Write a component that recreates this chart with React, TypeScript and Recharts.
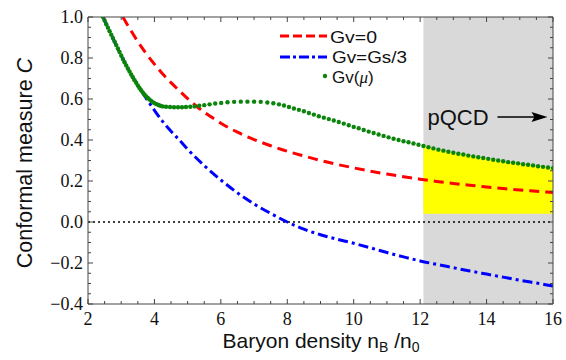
import React from 'react';
import { ComposedChart, Line, Area, XAxis, YAxis, ReferenceArea, ReferenceLine } from 'recharts';

// ---------- data ----------
const greenX = [
  2.45, 2.5, 2.55, 2.6, 2.65, 2.7, 2.75, 2.8, 2.85, 2.9, 2.95, 3.0, 3.05, 3.1, 3.15, 3.2, 3.25, 3.3, 3.35, 3.4,
  3.45, 3.5, 3.55, 3.6, 3.65, 3.7, 3.75, 3.8, 3.85, 3.9, 3.95, 4.0, 4.06, 4.12, 4.18, 4.25, 4.35, 4.47, 4.59, 4.71,
  4.83, 4.95, 5.08, 5.21, 5.35, 5.5, 5.66, 5.83, 6.01, 6.2, 6.4, 6.6, 6.8, 7.0, 7.2, 7.4, 7.58, 7.75, 7.9, 8.05,
  8.2, 8.35, 8.5, 8.65, 8.8, 8.95, 9.1, 9.25, 9.4, 9.55, 9.7, 9.85, 10.0, 10.15, 10.3, 10.45, 10.6, 10.75, 10.9, 11.05,
  11.2, 11.35, 11.5, 11.65, 11.8, 11.95, 12.1, 12.25, 12.4, 12.55, 12.7, 12.85, 13.0, 13.15, 13.3, 13.45, 13.6, 13.75, 13.9, 14.05,
  14.2, 14.35, 14.5, 14.65, 14.8, 14.95, 15.1, 15.25, 15.4, 15.55, 15.7, 15.85, 16.0,
];
const greenY = [
  1.0, 0.983, 0.965, 0.948, 0.931, 0.914, 0.897, 0.88, 0.863, 0.846, 0.829, 0.812, 0.795, 0.779, 0.764, 0.749, 0.734, 0.72, 0.706, 0.692,
  0.679, 0.666, 0.654, 0.643, 0.632, 0.622, 0.613, 0.605, 0.598, 0.591, 0.585, 0.58, 0.575, 0.571, 0.567, 0.564, 0.562, 0.561, 0.56, 0.56,
  0.56, 0.561, 0.562, 0.564, 0.567, 0.57, 0.574, 0.578, 0.581, 0.584, 0.586, 0.587, 0.587, 0.587, 0.586, 0.583, 0.579, 0.574, 0.568, 0.561,
  0.554, 0.547, 0.54, 0.532, 0.524, 0.516, 0.509, 0.502, 0.495, 0.488, 0.48, 0.472, 0.464, 0.457, 0.449, 0.441, 0.434, 0.427, 0.42, 0.413,
  0.406, 0.4, 0.394, 0.389, 0.383, 0.377, 0.371, 0.365, 0.359, 0.353, 0.348, 0.343, 0.338, 0.333, 0.329, 0.324, 0.32, 0.316, 0.312, 0.308,
  0.304, 0.3, 0.296, 0.292, 0.289, 0.286, 0.282, 0.279, 0.276, 0.272, 0.269, 0.266, 0.263,
];

const redX = [3.05, 3.25, 3.5, 3.75, 4.0, 4.25, 4.5, 4.75, 5.0, 5.25, 5.5, 5.75, 6.0, 6.5, 7.0, 7.5, 8.0, 8.5, 9.0, 9.5, 10.0, 10.5, 11.0, 11.5, 12.0, 12.5, 13.0, 13.5, 14.0, 14.5, 15.0, 15.5, 16.0];
const redY = [1.0, 0.945, 0.88, 0.822, 0.77, 0.722, 0.68, 0.64, 0.602, 0.567, 0.536, 0.508, 0.482, 0.438, 0.402, 0.372, 0.345, 0.322, 0.3, 0.281, 0.264, 0.248, 0.234, 0.221, 0.209, 0.198, 0.188, 0.179, 0.171, 0.163, 0.156, 0.15, 0.144];

const blueX = [2.45, 2.7, 3.0, 3.25, 3.5, 3.75, 4.0, 4.25, 4.5, 4.75, 5.0, 5.5, 6.0, 6.5, 7.0, 7.5, 8.0, 8.5, 9.0, 9.5, 10.0, 10.5, 11.0, 11.5, 12.0, 12.5, 13.0, 13.5, 14.0, 14.5, 15.0, 15.5, 16.0];
const blueY = [1.0, 0.914, 0.812, 0.734, 0.666, 0.604, 0.545, 0.49, 0.443, 0.4, 0.355, 0.275, 0.205, 0.142, 0.088, 0.042, 0.0, -0.035, -0.062, -0.084, -0.104, -0.126, -0.149, -0.17, -0.19, -0.207, -0.223, -0.239, -0.254, -0.269, -0.284, -0.298, -0.312];

const pqcdStart = 12.1;
const pqcdEnd = 16;
const bandLow = 0.04;

const xTicks = [2, 2.5, 3, 3.5, 4, 4.5, 5, 5.5, 6, 6.5, 7, 7.5, 8, 8.5, 9, 9.5, 10, 10.5, 11, 11.5, 12, 12.5, 13, 13.5, 14, 14.5, 15, 15.5, 16];
const yTicks = [-0.4, -0.35, -0.3, -0.25, -0.2, -0.15, -0.1, -0.05, 0, 0.05, 0.1, 0.15, 0.2, 0.25, 0.3, 0.35, 0.4, 0.45, 0.5, 0.55, 0.6, 0.65, 0.7, 0.75, 0.8, 0.85, 0.9, 0.95, 1.0];

const greenData = greenX.map((x, i) => ({ x, y: greenY[i] }));
const redData = redX.map((x, i) => ({ x, y: redY[i] }));
const blueData = blueX.map((x, i) => ({ x, y: blueY[i] }));
const yellowData = greenData.filter((p) => p.x >= pqcdStart).map((p) => ({ x: p.x, band: [bandLow, p.y] }));

// ---------- styles ----------
const AXIS = '#444';
const SERIF = '"Liberation Serif", "Times New Roman", serif';
const SANS = '"Liberation Sans", Arial, sans-serif';
const RED = '#ff0000';
const BLUE = '#0000ff';
const GREEN = '#0a840a';

const isMajorX = (v: number) => Math.abs(v / 2 - Math.round(v / 2)) < 1e-6;
const isMajorY = (v: number) => Math.abs(v * 5 - Math.round(v * 5)) < 1e-6;
const fmtY = (v: number) => (Math.abs(v) < 1e-9 ? '0.0' : v.toFixed(1).replace('-', '\u2212'));

const BottomTick = (props: any) => {
  const { x, y, payload } = props;
  const v = payload.value;
  const major = isMajorX(v);
  return (
    <g>
      <line x1={x} x2={x} y1={y} y2={y - (major ? 5 : 3)} stroke={AXIS} strokeWidth={1} />
      {major && (
        <text x={x} y={y + 21} textAnchor="middle" fontFamily={SERIF} fontSize={18} fill="#111">
          {v}
        </text>
      )}
    </g>
  );
};
const TopTick = (props: any) => {
  const { x, y, payload } = props;
  const major = isMajorX(payload.value);
  return <line x1={x} x2={x} y1={y} y2={y + (major ? 5 : 3)} stroke={AXIS} strokeWidth={1} />;
};
const LeftTick = (props: any) => {
  const { x, y, payload } = props;
  const v = payload.value;
  const major = isMajorY(v);
  return (
    <g>
      <line x1={x} x2={x + (major ? 5 : 3)} y1={y} y2={y} stroke={AXIS} strokeWidth={1} />
      {major && (
        <text x={x - 5} y={y + 6} textAnchor="end" fontFamily={SERIF} fontSize={18} fill="#111">
          {fmtY(v)}
        </text>
      )}
    </g>
  );
};
const RightTick = (props: any) => {
  const { x, y, payload } = props;
  const major = isMajorY(payload.value);
  return <line x1={x} x2={x - (major ? 5 : 3)} y1={y} y2={y} stroke={AXIS} strokeWidth={1} />;
};

const PqcdLabel = (props: any) => {
  const vb = props.viewBox || {};
  const x0 = vb.x ?? 0;
  const y0 = vb.y ?? 0;
  return (
    <g>
      <text x={x0 + 4} y={y0 + 108} fontFamily={SANS} fontSize={22} fill="#111">
        pQCD
      </text>
      <line x1={x0 + 74} x2={x0 + 112} y1={y0 + 100} y2={y0 + 100} stroke="#000" strokeWidth={1.5} />
      <polygon points={`${x0 + 124},${y0 + 100} ${x0 + 108},${y0 + 95} ${x0 + 111},${y0 + 100} ${x0 + 108},${y0 + 105}`} fill="#000" />
    </g>
  );
};

export default function App() {
  return (
    <div style={{ position: 'absolute', left: 0, top: 0, width: 566, height: 360, background: '#fff' }}>
      <ComposedChart width={566} height={360} margin={{ top: 16, right: 12, bottom: 55, left: 87 }}>
        <XAxis
          xAxisId="main"
          dataKey="x"
          type="number"
          domain={[2, 16]}
          ticks={xTicks}
          interval={0}
          allowDataOverflow
          height={1}
          tickSize={0}
          tickMargin={0}
          tickLine={false}
          axisLine={{ stroke: AXIS, strokeWidth: 1 }}
          tick={<BottomTick />}
        />
        <XAxis
          xAxisId="top"
          orientation="top"
          dataKey="x"
          type="number"
          domain={[2, 16]}
          ticks={xTicks}
          interval={0}
          allowDataOverflow
          height={1}
          tickSize={0}
          tickMargin={0}
          tickLine={false}
          axisLine={{ stroke: AXIS, strokeWidth: 1 }}
          tick={<TopTick />}
        />
        <YAxis
          yAxisId="main"
          type="number"
          domain={[-0.4, 1.0]}
          ticks={yTicks}
          interval={0}
          allowDataOverflow
          width={1}
          tickSize={0}
          tickMargin={0}
          tickLine={false}
          axisLine={{ stroke: AXIS, strokeWidth: 1 }}
          tick={<LeftTick />}
        />
        <YAxis
          yAxisId="right"
          orientation="right"
          type="number"
          domain={[-0.4, 1.0]}
          ticks={yTicks}
          interval={0}
          allowDataOverflow
          width={1}
          tickSize={0}
          tickMargin={0}
          tickLine={false}
          axisLine={{ stroke: AXIS, strokeWidth: 1 }}
          tick={<RightTick />}
        />
        <ReferenceArea
          xAxisId="main"
          yAxisId="main"
          x1={pqcdStart}
          x2={pqcdEnd}
          y1={-0.4}
          y2={1.0}
          fill="#d9d9d9"
          fillOpacity={1}
          stroke="none"
          ifOverflow="hidden"
          label={<PqcdLabel />}
        />
        <Area
          xAxisId="main"
          yAxisId="main"
          data={yellowData}
          dataKey="band"
          type="linear"
          fill="#ffff00"
          fillOpacity={1}
          stroke="none"
          isAnimationActive={false}
        />
        <ReferenceLine xAxisId="main" yAxisId="main" y={0} stroke="#000" strokeWidth={1.5} strokeDasharray="2 3" />
        <Line
          xAxisId="main"
          yAxisId="main"
          data={redData}
          dataKey="y"
          type="monotone"
          stroke={RED}
          strokeWidth={3}
          strokeDasharray="10 6"
          dot={false}
          isAnimationActive={false}
        />
        <Line
          xAxisId="main"
          yAxisId="main"
          data={blueData}
          dataKey="y"
          type="monotone"
          stroke={BLUE}
          strokeWidth={3}
          strokeDasharray="10 4 3 4"
          dot={false}
          isAnimationActive={false}
        />
        <Line
          xAxisId="main"
          yAxisId="main"
          data={greenData}
          dataKey="y"
          type="linear"
          stroke="none"
          dot={{ r: 2.2, fill: GREEN, stroke: 'none' }}
          isAnimationActive={false}
        />
      </ComposedChart>
      <svg width={566} height={360} style={{ position: 'absolute', left: 0, top: 0, pointerEvents: 'none' }}>
        {/* legend */}
        <line x1={280} x2={327} y1={36} y2={36} stroke={RED} strokeWidth={3} strokeDasharray="9 4" />
        <text x={330} y={43} fontFamily={SANS} fontSize={17} fill="#111" textLength={47} lengthAdjust="spacingAndGlyphs">Gv=0</text>
        <line x1={280} x2={327} y1={57} y2={57} stroke={BLUE} strokeWidth={3} strokeDasharray="10 3 3 3" />
        <text x={332} y={63} fontFamily={SANS} fontSize={17} fill="#111" textLength={75} lengthAdjust="spacingAndGlyphs">Gv=Gs/3</text>
        <circle cx={325} cy={76} r={2.2} fill={GREEN} />
        <text x={332} y={83} fontFamily={SANS} fontSize={17} fill="#111">
          Gv(<tspan fontFamily={SERIF} fontStyle="italic">μ</tspan>)
        </text>
        {/* axis titles */}
        <text
          x={0}
          y={0}
          transform="translate(32,163) rotate(-90)"
          textAnchor="middle"
          fontFamily={SANS}
          fontSize={21.5}
          fill="#111"
        >
          Conformal measure <tspan fontStyle="italic">C</tspan>
        </text>
        <text x={321} y={348} textAnchor="middle" fontFamily={SANS} fontSize={21} fill="#111">
          Baryon density n<tspan fontSize={14} dy={4}>B</tspan>
          <tspan dy={-4}> /n</tspan>
          <tspan fontSize={14} dy={4}>0</tspan>
        </text>
      </svg>
    </div>
  );
}
